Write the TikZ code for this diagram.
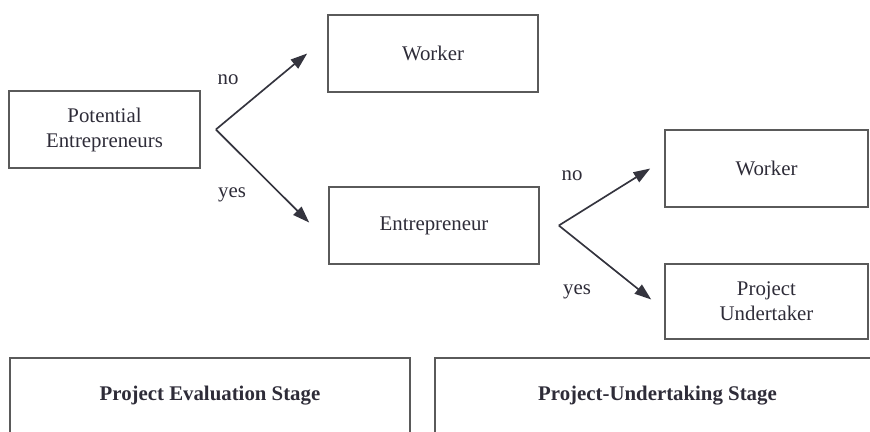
\documentclass[tikz,border=0pt]{standalone}
\usepackage{fontspec}
\setmainfont{LiberationSerif}[Extension=.ttf, UprightFont=*-Regular, BoldFont=*-Bold]
\definecolor{feText}{HTML}{2E2C38}
\definecolor{feLine}{HTML}{5A5A5A}
\definecolor{feArrow}{HTML}{34343E}
\usetikzlibrary{calc,positioning,arrows.meta}

\begin{document}
\begin{tikzpicture}[x=0.48pt, y=-0.48pt,
  box/.style={draw=feLine, line width=0.8pt, text=feText, align=center, inner sep=0pt,
    minimum width=100.8pt, minimum height=37pt},
  choice/.style={draw=feArrow, line width=0.8pt, -{Triangle[length=8pt,width=5.5pt]}},
  answer/.style={text=feText, inner sep=0pt}]
  \clip (0,0) rectangle (870,431);
  % decision tree
  \node[box, minimum width=91.7pt] (pot) at (104.5,129.5) {Potential\\Entrepreneurs};
  \node[box] (work1) at (433,53.5) {Worker};
  \node[box] (ent) at (434,225.5) {Entrepreneur};
  \node[box, minimum width=97.4pt] (work2) at (766.5,168.5) {Worker};
  \node[box, minimum width=97.4pt, minimum height=36pt] (undert) at (766.5,301.5) {Project\\Undertaker};
  \coordinate (fork1) at ($(pot.east)+(15,0)$);
  \coordinate (fork2) at ($(ent.east)+(19,0)$);
  \draw[choice] (fork1) -- ($(work1.west)+(-20,0)$);
  \draw[choice] (fork1) -- ($(ent.west)+(-19,-3)$);
  \draw[choice] (fork2) -- ($(work2.west)+(-14,0)$);
  \draw[choice] (fork2) -- ($(undert.west)+(-13,-2)$);
  \node[answer] (no1) at (228,80) {no};
  \node[answer] (yes1) at (232,195) {yes};
  \node[answer] (no2) at (572,176) {no};
  \node[answer] (yes2) at (577,292) {yes};
  % stages
  \node[box, minimum width=192pt, minimum height=36.5pt, font=\bfseries] (evalst) at (210,396) {Project Evaluation Stage};
  \node[box, minimum width=213.6pt, minimum height=36.5pt, font=\bfseries] (undst) at (657.5,396) {Project-Undertaking Stage};
\end{tikzpicture}
\end{document}
